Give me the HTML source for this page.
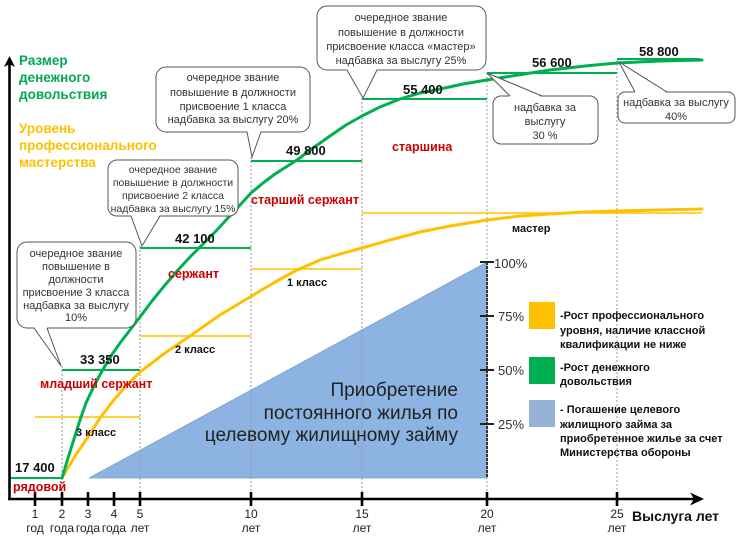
<!DOCTYPE html>
<html><head><meta charset="utf-8"><style>
html,body{margin:0;padding:0;background:#fff;}
svg{display:block;font-family:"Liberation Sans",Arial,sans-serif;}
</style></head><body>
<svg width="738" height="539" viewBox="0 0 738 539" xmlns="http://www.w3.org/2000/svg">
<rect width="738" height="539" fill="#fff"/>

<!-- triangle -->
<polygon points="89,478 487,262 487,478" fill="#8cb3e2" stroke="#7d9fcc" stroke-width="0.8"/>

<!-- dotted verticals -->
<g stroke="#9a9a9a" stroke-width="1" stroke-dasharray="2,2">
<line x1="62" y1="366" x2="62" y2="499"/>
<line x1="140" y1="246" x2="140" y2="499"/>
<line x1="251" y1="157" x2="251" y2="499"/>
<line x1="362" y1="98" x2="362" y2="499"/>
<line x1="487" y1="73" x2="487" y2="499"/>
<line x1="617" y1="60" x2="617" y2="499"/>
</g>

<!-- percent axis -->
<line x1="487" y1="262" x2="487" y2="478" stroke="#333" stroke-width="2" stroke-dasharray="3,1"/>
<g stroke="#222" stroke-width="2">
<line x1="480" y1="262" x2="494" y2="262"/>
<line x1="480" y1="316" x2="494" y2="316"/>
<line x1="480" y1="370" x2="494" y2="370"/>
<line x1="480" y1="424" x2="494" y2="424"/>
</g>
<g font-size="13" fill="#333">
<text x="494" y="268">100%</text>
<text x="498" y="321">75%</text>
<text x="498" y="375">50%</text>
<text x="498" y="429">25%</text>
</g>

<!-- triangle text -->
<g font-size="19" fill="#222" text-anchor="end">
<text x="458" y="396">Приобретение</text>
<text x="458" y="419">постоянного жилья по</text>
<text x="458" y="441">целевому жилищному займу</text>
</g>

<!-- yellow steps -->
<g stroke="#ffc000" stroke-width="1.6">
<line x1="35" y1="417" x2="140" y2="417"/>
<line x1="140" y1="336" x2="251" y2="336"/>
<line x1="251" y1="269" x2="362" y2="269"/>
<line x1="362" y1="213" x2="702" y2="213"/>
</g>

<!-- green steps -->
<g stroke="#00b050" stroke-width="2">
<line x1="10" y1="478" x2="62" y2="478"/>
<line x1="62" y1="370" x2="140" y2="370"/>
<line x1="140" y1="248" x2="251" y2="248"/>
<line x1="251" y1="161" x2="362" y2="161"/>
<line x1="362" y1="99" x2="487" y2="99"/>
<line x1="487" y1="73" x2="617" y2="73"/>
<line x1="617" y1="59" x2="700" y2="59"/>
</g>

<!-- yellow curve -->
<polyline fill="none" stroke="#ffc000" stroke-width="3" stroke-linejoin="round" stroke-linecap="round"
points="62,478 75,456 88,437 100,418 113,401 126,386 140,372 165,353 190,336 220,315 250,297 275,282 297,270 320,260 340,254 362,248 390,240 420,232 450,226 487,220 520,216 550,214 585,212 617,211 660,210 702,209"/>

<!-- green curve -->
<polyline fill="none" stroke="#00b050" stroke-width="3" stroke-linejoin="round" stroke-linecap="round"
points="62,478 68,458 74,439 80,420 86,403 94,386 102,371 111,356 120,343 130,330 140,317 152,301 165,285 178,270 190,257 203,244 215,232 228,218 240,205 251,193 263,183 275,174 286,167 297,160 313,148 330,136 346,125 362,116 380,107 400,99 420,93 440,89 463,84 487,80 518,75 550,70 585,66 617,63 660,61 702,60"/>

<!-- axes -->
<g stroke="#000" stroke-width="2.6" fill="none">
<line x1="9.5" y1="499" x2="9.5" y2="64"/>
<line x1="8" y1="499" x2="694" y2="499"/>
</g>
<polygon points="9.5,56 4,67 9.5,64 15,67" fill="#000"/>
<polygon points="704,499 690,492.5 694,499 690,505.5" fill="#000"/>
<g stroke="#000" stroke-width="2.6">
<line x1="35" y1="492" x2="35" y2="506"/>
<line x1="62" y1="492" x2="62" y2="506"/>
<line x1="88" y1="492" x2="88" y2="506"/>
<line x1="114" y1="492" x2="114" y2="506"/>
<line x1="140" y1="492" x2="140" y2="506"/>
<line x1="251" y1="492" x2="251" y2="506"/>
<line x1="362" y1="492" x2="362" y2="506"/>
<line x1="487" y1="492" x2="487" y2="506"/>
<line x1="617" y1="492" x2="617" y2="506"/>
</g>
<g font-size="12" fill="#222" text-anchor="middle">
<text x="35" y="518">1</text><text x="35" y="532">год</text>
<text x="62" y="518">2</text><text x="62" y="532">года</text>
<text x="88" y="518">3</text><text x="88" y="532">года</text>
<text x="114" y="518">4</text><text x="114" y="532">года</text>
<text x="140" y="518">5</text><text x="140" y="532">лет</text>
<text x="251" y="518">10</text><text x="251" y="532">лет</text>
<text x="362" y="518">15</text><text x="362" y="532">лет</text>
<text x="487" y="518">20</text><text x="487" y="532">лет</text>
<text x="617" y="518">25</text><text x="617" y="532">лет</text>
</g>
<text x="632" y="521" font-size="14" font-weight="bold" fill="#111">Выслуга лет</text>

<!-- y axis titles -->
<g font-size="13.5" font-weight="bold" fill="#00a850">
<text x="19" y="65">Размер</text>
<text x="19" y="82">денежного</text>
<text x="19" y="99">довольствия</text>
</g>
<g font-size="13.5" font-weight="bold" fill="#ffc000">
<text x="19" y="133">Уровень</text>
<text x="19" y="150">профессионального</text>
<text x="19" y="167">мастерства</text>
</g>

<!-- value labels -->
<g font-size="13" font-weight="bold" fill="#111">
<text x="15" y="472">17 400</text>
<text x="80" y="364">33 350</text>
<text x="175" y="243">42 100</text>
<text x="286" y="155">49 800</text>
<text x="403" y="94">55 400</text>
<text x="532" y="67">56 600</text>
<text x="639" y="56">58 800</text>
</g>
<g font-size="12.5" font-weight="bold" fill="#cc0000">
<text x="13" y="491">рядовой</text>
<text x="40" y="388">младший сержант</text>
<text x="168" y="278">сержант</text>
<text x="251" y="204">старший сержант</text>
<text x="392" y="151">старшина</text>
</g>
<g font-size="11" font-weight="bold" fill="#111">
<text x="76" y="436">3 класс</text>
<text x="175" y="353">2 класс</text>
<text x="287" y="286">1 класс</text>
<text x="512" y="232">мастер</text>
</g>

<!-- callouts -->
<g fill="#fff" stroke="#555" stroke-width="1">
<rect x="17" y="242" width="119" height="86" rx="10"/>
<rect x="108" y="160" width="130" height="56" rx="9"/>
<rect x="156" y="67" width="154" height="65" rx="10"/>
<rect x="317" y="6" width="169" height="64" rx="10"/>
<rect x="493" y="96" width="105" height="48" rx="8"/>
<rect x="618" y="92" width="117" height="31" rx="7"/>
</g>
<!-- pointers -->
<g fill="#fff" stroke="none">
<polygon points="34,327 47,327 61,366"/>
<polygon points="131,215 160,215 142,246"/>
<polygon points="247,131 261,131 252,157"/>
<polygon points="347,69 377,69 363,98"/>
<polygon points="510,97 542,97 487,73"/>
<polygon points="635,93 667,93 619,62"/>
</g>
<g fill="none" stroke="#555" stroke-width="1">
<polyline points="34,328 61,366 47,328"/>
<polyline points="131,216 142,246 160,216"/>
<polyline points="247,132 252,157 261,132"/>
<polyline points="347,70 363,98 377,70"/>
<polyline points="510,96 487,73 542,96"/>
<polyline points="635,92 619,62 667,92"/>
</g>
<g font-size="11" fill="#333" text-anchor="middle">
<text x="76" y="257">очередное звание</text>
<text x="76" y="270">повышение в</text>
<text x="76" y="283">должности</text>
<text x="76" y="296">присвоение 3 класса</text>
<text x="76" y="309">надбавка за выслугу</text>
<text x="76" y="321">10%</text>

<text x="233" y="81">очередное звание</text>
<text x="233" y="96">повышение в должности</text>
<text x="233" y="110">присвоение 1 класса</text>
<text x="233" y="123">надбавка  за  выслугу 20%</text>

<text x="401" y="21">очередное звание</text>
<text x="401" y="36">повышение в должности</text>
<text x="401" y="50">присвоение  класса «мастер»</text>
<text x="401" y="64">надбавка  за  выслугу 25%</text>

<text x="545" y="111">надбавка  за</text>
<text x="545" y="125">выслугу</text>
<text x="545" y="139">30 %</text>

<text x="676" y="106">надбавка  за  выслугу</text>
<text x="676" y="120">40%</text>
</g>
<g font-size="10.5" fill="#333" text-anchor="middle">
<text x="173" y="173">очередное звание</text>
<text x="173" y="186">повышение в  должности</text>
<text x="173" y="199">присвоение 2 класса</text>
<text x="173" y="212">надбавка за выслугу 15%</text>
</g>

<!-- legend -->
<rect x="529" y="302" width="26" height="27" fill="#ffc000"/>
<rect x="529" y="357" width="26" height="27" fill="#00b050"/>
<rect x="529" y="400" width="26" height="27" fill="#95b3d7"/>
<g font-size="11" font-weight="bold" fill="#111">
<text x="560" y="319">-Рост профессионального</text>
<text x="560" y="334">уровня,  наличие классной</text>
<text x="560" y="348">квалификации не ниже</text>
<text x="560" y="371">-Рост денежного</text>
<text x="560" y="385">довольствия</text>
<text x="560" y="413">-  Погашение целевого</text>
<text x="560" y="428">жилищного займа за</text>
<text x="560" y="442">приобретенное жилье за счет</text>
<text x="560" y="456">Министерства обороны</text>
</g>
</svg>
</body></html>
